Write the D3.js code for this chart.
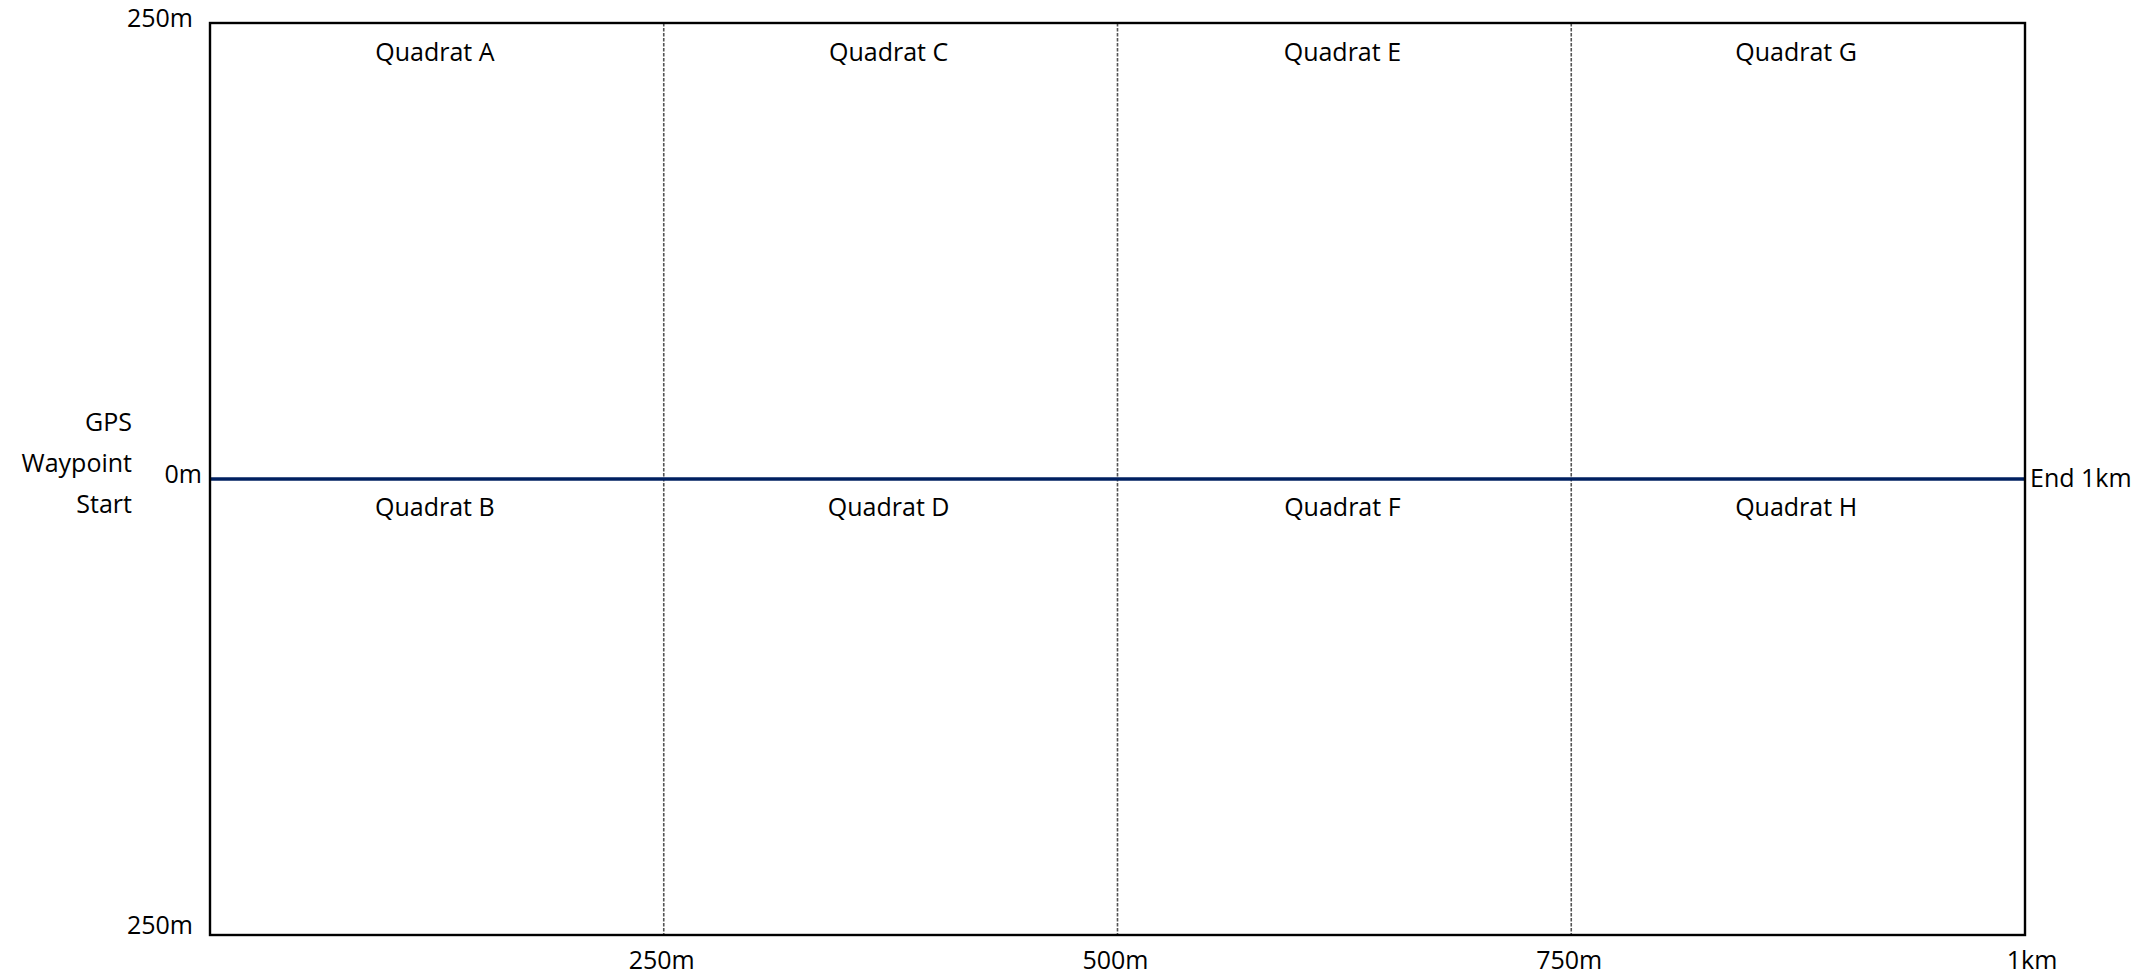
<!DOCTYPE html>
<html>
<head>
<meta charset="utf-8">
<script src="https://cdn.jsdelivr.net/npm/d3@7"></script>
<style>
  html, body { margin: 0; padding: 0; background: #fff; }
  svg { display: block; }
  text { font-family: "Open Sans", "Noto Sans", sans-serif; fill: #000; }
</style>
</head>
<body>
<svg id="chart" width="2154" height="976"></svg>
<script>
// ---- data ----
const xDomain = [0, 1000];              // metres along transect
const yDomain = [-250, 250];            // metres either side
const xTickValues = [250, 500, 750, 1000];
const xTickLabels = ["250m", "500m", "750m", "1km"];
const yTickValues = [250, 0, -250];
const yTickLabels = ["250m", "0m", "250m"];
const quadratNames = ["Quadrat A", "Quadrat B", "Quadrat C", "Quadrat D",
                      "Quadrat E", "Quadrat F", "Quadrat G", "Quadrat H"];
const quadratStart = [0, 0, 250, 250, 500, 500, 750, 750];
const quadratEnd   = [250, 250, 500, 500, 750, 750, 1000, 1000];
const quadratSide  = ["top", "bottom", "top", "bottom", "top", "bottom", "top", "bottom"];
const transectValue = 0;
const startLabel = ["GPS", "Waypoint", "Start"];
const endLabel = "End 1km";

// ---- layout ----
const svg = d3.select("#chart");
const plotLeft = 210, plotRight = 2025, plotTop = 23, plotBottom = 935;
const x = d3.scaleLinear().domain(xDomain).range([plotLeft, plotRight]);
const y = d3.scaleLinear().domain(yDomain).range([plotBottom, plotTop]);
const fs = 25;

// dashed quadrat dividers
svg.append("g").selectAll("line")
  .data(xTickValues.filter(v => v < xDomain[1]))
  .join("line")
  .attr("x1", d => x(d)).attr("x2", d => x(d))
  .attr("y1", y(yDomain[1])).attr("y2", y(yDomain[0]))
  .attr("stroke", "#555").attr("stroke-width", 1.6)
  .attr("stroke-dasharray", "3.5,1.5");

// transect line
svg.append("line")
  .attr("x1", x(xDomain[0])).attr("x2", x(xDomain[1]))
  .attr("y1", y(transectValue)).attr("y2", y(transectValue))
  .attr("stroke", "#002060").attr("stroke-width", 3.6);

// plot border
svg.append("rect")
  .attr("x", x(xDomain[0])).attr("y", y(yDomain[1]))
  .attr("width", x(xDomain[1]) - x(xDomain[0]))
  .attr("height", y(yDomain[0]) - y(yDomain[1]))
  .attr("fill", "none").attr("stroke", "#000").attr("stroke-width", 2.4);

// quadrat labels
svg.append("g").selectAll("text")
  .data(quadratNames.map((n, i) => ({ n, s: quadratStart[i], e: quadratEnd[i], side: quadratSide[i] })))
  .join("text")
  .attr("x", d => x((d.s + d.e) / 2) - 2)
  .attr("y", d => d.side === "top" ? y(yDomain[1]) + 38 : y(transectValue) + 37)
  .attr("text-anchor", "middle")
  .attr("font-size", fs)
  .text(d => d.n);

// x tick labels
svg.append("g").selectAll("text")
  .data(xTickValues)
  .join("text")
  .attr("x", d => x(d) + (d === xDomain[1] ? 7 : -2))
  .attr("y", y(yDomain[0]) + 34)
  .attr("text-anchor", "middle")
  .attr("font-size", fs)
  .text((d, i) => xTickLabels[i]);

// y tick labels
svg.append("g").selectAll("text")
  .data(yTickValues)
  .join("text")
  .attr("x", d => d === 0 ? 202 : 193)
  .attr("y", d => d === yDomain[0] ? y(d) - 1 : y(d) + 4)
  .attr("text-anchor", "end")
  .attr("font-size", fs)
  .text((d, i) => yTickLabels[i]);

// start label
svg.append("g").selectAll("text")
  .data(startLabel)
  .join("text")
  .attr("x", 132)
  .attr("y", (d, i) => y(transectValue) - 48 + i * 41)
  .attr("text-anchor", "end")
  .attr("font-size", fs)
  .text(d => d);

// end label
svg.append("text")
  .attr("x", x(xDomain[1]) + 5)
  .attr("y", y(transectValue) + 8)
  .attr("text-anchor", "start")
  .attr("font-size", fs)
  .text(endLabel);
</script>
</body>
</html>
